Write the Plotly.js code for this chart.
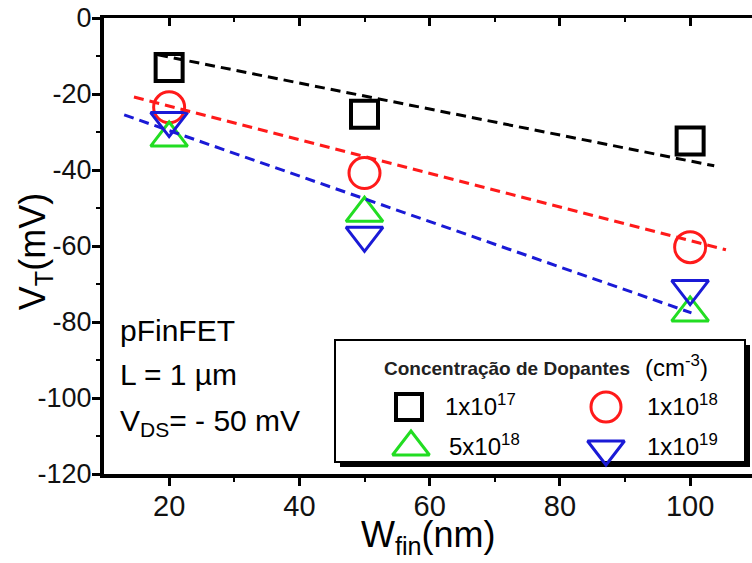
<!DOCTYPE html>
<html>
<head>
<meta charset="utf-8">
<script src="https://cdn.plot.ly/plotly-3.0.1.min.js"></script>
<style>html,body{margin:0;padding:0;background:#fff;}#chart{width:752px;height:563px;}</style>
</head>
<body>
<div id="chart"></div>
<script>
// ---- data ----
const wfin = [20, 50, 100];
const vt1e17 = [-13.0, -25.3, -32.4];
const vt1e18 = [-23.5, -40.8, -60.3];
const vt5e18 = [-31.6, -51.4, -77.6];
const vt1e19 = [-27.0, -57.2, -71.2];

// dashed fit lines (endpoints)
const fit1e17X = [18.3, 103.7];
const fit1e17Y = [-9.7, -38.9];
const fit1e18X = [14.6, 105.5];
const fit1e18Y = [-20.8, -61.0];
const fit1e19X = [13.1, 100.2];
const fit1e19Y = [-25.5, -77.6];

const seriesNames = ["1x10<sup>17</sup>", "1x10<sup>18</sup>", "5x10<sup>18</sup>", "1x10<sup>19</sup>"];
const xTicks = [20, 40, 60, 80, 100];
const yTicks = [0, -20, -40, -60, -80, -100, -120];

const FONT = "Liberation Sans, Arial, sans-serif";
const cBlack = "#000000", cRed = "#ff1a1a", cGreen = "#22dd22", cBlue = "#1a1ad6";

const dash = "10px,6px";
const traces = [
  {x: fit1e17X, y: fit1e17Y, mode: "lines", line: {color: cBlack, width: 3, dash: dash}, xaxis: "x2", yaxis: "y", showlegend: false, hoverinfo: "skip"},
  {x: fit1e18X, y: fit1e18Y, mode: "lines", line: {color: cRed, width: 3, dash: dash}, xaxis: "x2", yaxis: "y", showlegend: false, hoverinfo: "skip"},
  {x: fit1e19X, y: fit1e19Y, mode: "lines", line: {color: cBlue, width: 3, dash: dash}, xaxis: "x2", yaxis: "y", showlegend: false, hoverinfo: "skip"},
  {x: wfin, y: vt1e17, mode: "markers", name: seriesNames[0], marker: {symbol: "square-open", size: 27, color: cBlack, line: {width: 4, color: cBlack}}, showlegend: false},
  {x: wfin, y: vt1e18, mode: "markers", name: seriesNames[1], marker: {symbol: "circle-open", size: 31, color: cRed, line: {width: 3, color: cRed}}, showlegend: false},
  {x: wfin, y: vt5e18, mode: "markers", name: seriesNames[2], marker: {symbol: "triangle-up-open", size: 32, color: cGreen, line: {width: 3, color: cGreen}}, showlegend: false},
  {x: wfin, y: vt1e19, mode: "markers", name: seriesNames[3], marker: {symbol: "triangle-down-open", size: 32, color: cBlue, line: {width: 3, color: cBlue}}, showlegend: false}
];

// ---- custom legend (pixel-coordinate overlay axes x3/y3) ----
const legSym = ["square-open", "circle-open", "triangle-up-open", "triangle-down-open"];
const legCol = [cBlack, cRed, cGreen, cBlue];
const legSize = [26, 30, 32, 32];
const legLW = [4, 3, 3, 3];
const legMX = [409, 606, 411, 606];
const legMY = [407, 407, 447, 449];
const legTX = [443, 645, 447, 645];
const legTY = [405, 405, 445, 445];
for (let i = 0; i < 4; i++) {
  traces.push({x: [legMX[i]], y: [legMY[i]], mode: "markers", xaxis: "x3", yaxis: "y3", showlegend: false, hoverinfo: "skip",
    marker: {symbol: legSym[i], size: legSize[i], color: legCol[i], line: {width: legLW[i], color: legCol[i]}}});
}

const annotations = [
  {xref: "x3", yref: "y3", x: 118, y: 330, xanchor: "left", yanchor: "middle", showarrow: false, text: "pFinFET", font: {family: FONT, size: 30, color: "#000"}},
  {xref: "x3", yref: "y3", x: 118, y: 374, xanchor: "left", yanchor: "middle", showarrow: false, text: "L = 1 µm", font: {family: FONT, size: 30, color: "#000"}},
  {xref: "x3", yref: "y3", x: 118, y: 422, xanchor: "left", yanchor: "middle", showarrow: false, text: "V<sub>DS</sub>= - 50 mV", font: {family: FONT, size: 30, color: "#000"}},
  {xref: "x3", yref: "y3", x: 382, y: 368, xanchor: "left", yanchor: "middle", showarrow: false, text: "<b>Concentração de Dopantes</b>", font: {family: "Liberation Sans Narrow, Liberation Sans, Arial, sans-serif", size: 19, color: "#222"}},
  {xref: "x3", yref: "y3", x: 643, y: 366, xanchor: "left", yanchor: "middle", showarrow: false, text: "(cm<sup>-3</sup>)", font: {family: FONT, size: 24, color: "#000"}},
  // axis titles
  {xref: "paper", yref: "paper", x: 0.5, y: -0.084, xanchor: "center", yanchor: "top", showarrow: false, text: "W<sub>fin</sub>(nm)", font: {family: FONT, size: 36, color: "#000"}},
  {xref: "paper", yref: "paper", x: -0.106, y: 0.487, xanchor: "center", yanchor: "middle", textangle: -90, showarrow: false, text: "V<sub>T</sub>(mV)", font: {family: FONT, size: 36, color: "#000"}}
];
for (let i = 0; i < 4; i++) {
  annotations.push({xref: "x3", yref: "y3", x: legTX[i], y: legTY[i], xanchor: "left", yanchor: "middle", showarrow: false,
    text: seriesNames[i], font: {family: FONT, size: 24, color: "#000"}});
}

const shapes = [
  {type: "rect", xref: "x3", yref: "y3", x0: 340, x1: 750, y0: 345, y1: 467, fillcolor: "#000", line: {width: 0}, layer: "below"},
  {type: "rect", xref: "x3", yref: "y3", x0: 335, x1: 745, y0: 340, y1: 462, fillcolor: "#fff", line: {width: 2, color: "#000"}, layer: "below"}
];

const xr = [10, 109.5];
const layout = {
  width: 752, height: 563,
  margin: {l: 104, r: 0, t: 18, b: 89, pad: 0},
  paper_bgcolor: "#fff", plot_bgcolor: "rgba(0,0,0,0)",
  showlegend: false,
  font: {family: FONT, color: "#000"},
  xaxis: {
    range: xr, showgrid: false, zeroline: false,
    showline: true, linewidth: 4, linecolor: "#000",
    ticks: "outside", ticklen: 8, tickwidth: 3, tickcolor: "#000",
    tickvals: xTicks, ticktext: xTicks.map(String),
    ticklabelstandoff: -5,
    minor: {tickvals: [30, 50, 70, 90], ticks: "outside", ticklen: 4, tickwidth: 2, tickcolor: "#000"},
    tickfont: {family: FONT, size: 29, color: "#111"}
  },
  xaxis2: {
    range: xr, overlaying: "x", side: "top", showgrid: false, zeroline: false,
    showline: true, linewidth: 3, linecolor: "#000",
    ticks: "inside", ticklen: 8, tickwidth: 3, tickcolor: "#000",
    tickvals: xTicks, showticklabels: false,
    minor: {tickvals: [30, 50, 70, 90], ticks: "inside", ticklen: 4, tickwidth: 2, tickcolor: "#000"}
  },
  yaxis: {
    range: [-120, 0], showgrid: false, zeroline: false,
    showline: true, linewidth: 4, linecolor: "#000",
    ticks: "outside", ticklen: 8, tickwidth: 3, tickcolor: "#000",
    tickvals: yTicks, ticktext: yTicks.map(String),
    ticklabelstandoff: -5,
    minor: {tickvals: [-10, -30, -50, -70, -90, -110], ticks: "outside", ticklen: 4, tickwidth: 2, tickcolor: "#000"},
    tickfont: {family: FONT, size: 27, color: "#111"}
  },
  xaxis3: {domain: [0, 1], range: [104, 752], overlaying: "x", visible: false, fixedrange: true, anchor: "y3"},
  yaxis3: {domain: [0, 1], range: [474, 18], overlaying: "y", visible: false, fixedrange: true, anchor: "x3"},
  annotations: annotations,
  shapes: shapes
};

Plotly.newPlot("chart", traces, layout, {displayModeBar: false, staticPlot: true});
</script>
</body>
</html>
